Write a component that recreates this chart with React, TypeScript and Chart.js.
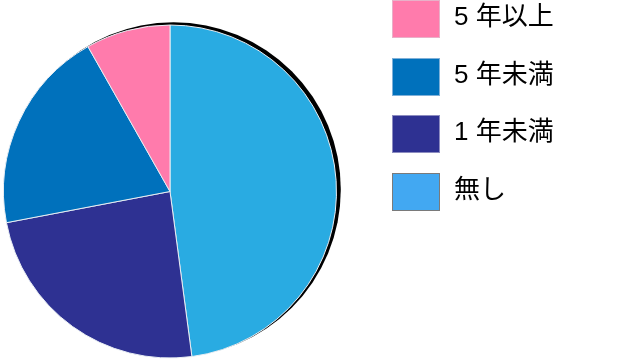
import React, { useEffect, useRef } from "react";
import { Chart, registerables } from "chart.js";

Chart.register(...registerables);

// Data (clockwise from 12 o'clock)
const categories = ["無し", "1 年未満", "5 年未満", "5 年以上"];
const values = [47.9, 24.1, 19.8, 8.2];
const sliceColors = ["#29ABE2", "#2E3192", "#0071BC", "#FF7BAC"];
// Legend (shown in reverse order)
const legendColors = ["#42A8F2", "#2E3192", "#0071BC", "#FF7BAC"];
const legendBorders = ["#7a7a7a", "#8c8cc0", "#7fb0d8", "#e8b0c8"];

const shadowPlugin = {
  id: "pieShadow",
  beforeDatasetsDraw(chart: any) {
    const meta = chart.getDatasetMeta(0);
    const arc: any = meta.data[0];
    if (!arc) return;
    const { x, y, outerRadius } = arc.getProps(["x", "y", "outerRadius"], true);
    const ctx = chart.ctx;
    ctx.save();
    ctx.beginPath();
    ctx.arc(x + 3.5, y - 2, outerRadius + 0.8, 0, Math.PI * 2);
    ctx.fillStyle = "#000";
    ctx.fill();
    ctx.restore();
  },
};

export default function App() {
  const ref = useRef<HTMLCanvasElement>(null);
  useEffect(() => {
    if (!ref.current) return;
    const chart = new Chart(ref.current, {
      type: "pie",
      data: {
        labels: categories,
        datasets: [
          {
            data: values,
            backgroundColor: sliceColors,
            borderColor: "#e8eef4",
            borderWidth: 1,
          },
        ],
      },
      options: {
        responsive: false,
        animation: false,
        layout: { padding: { left: 3, top: 24, right: 290, bottom: 0 } },
        plugins: {
          legend: { display: false },
          tooltip: { enabled: false },
        },
      },
      plugins: [shadowPlugin],
    });
    return () => chart.destroy();
  }, []);

  const order = [3, 2, 1, 0];
  return (
    <div style={{ position: "absolute", left: 0, top: 0, width: 627, height: 359, background: "#fff" }}>
      <canvas ref={ref} width={627} height={359} style={{ position: "absolute", left: 0, top: 0 }} />
      {order.map((idx, i) => (
        <div key={idx} style={{ position: "absolute", left: 392, top: i * 57.5, height: 38, display: "flex", alignItems: "center" }}>
          <div
            style={{
              width: 48,
              height: 38,
              boxSizing: "border-box",
              background: legendColors[idx],
              border: `1px solid ${legendBorders[idx]}`,
            }}
          />
          <div
            style={{
              position: "absolute",
              left: 62,
              top: -3,
              fontFamily: "'Liberation Sans', 'Noto Sans CJK JP', sans-serif",
              fontSize: 26,
              lineHeight: "38px",
              color: "#000",
              whiteSpace: "nowrap",
            }}
          >
            {categories[idx]}
          </div>
        </div>
      ))}
    </div>
  );
}
